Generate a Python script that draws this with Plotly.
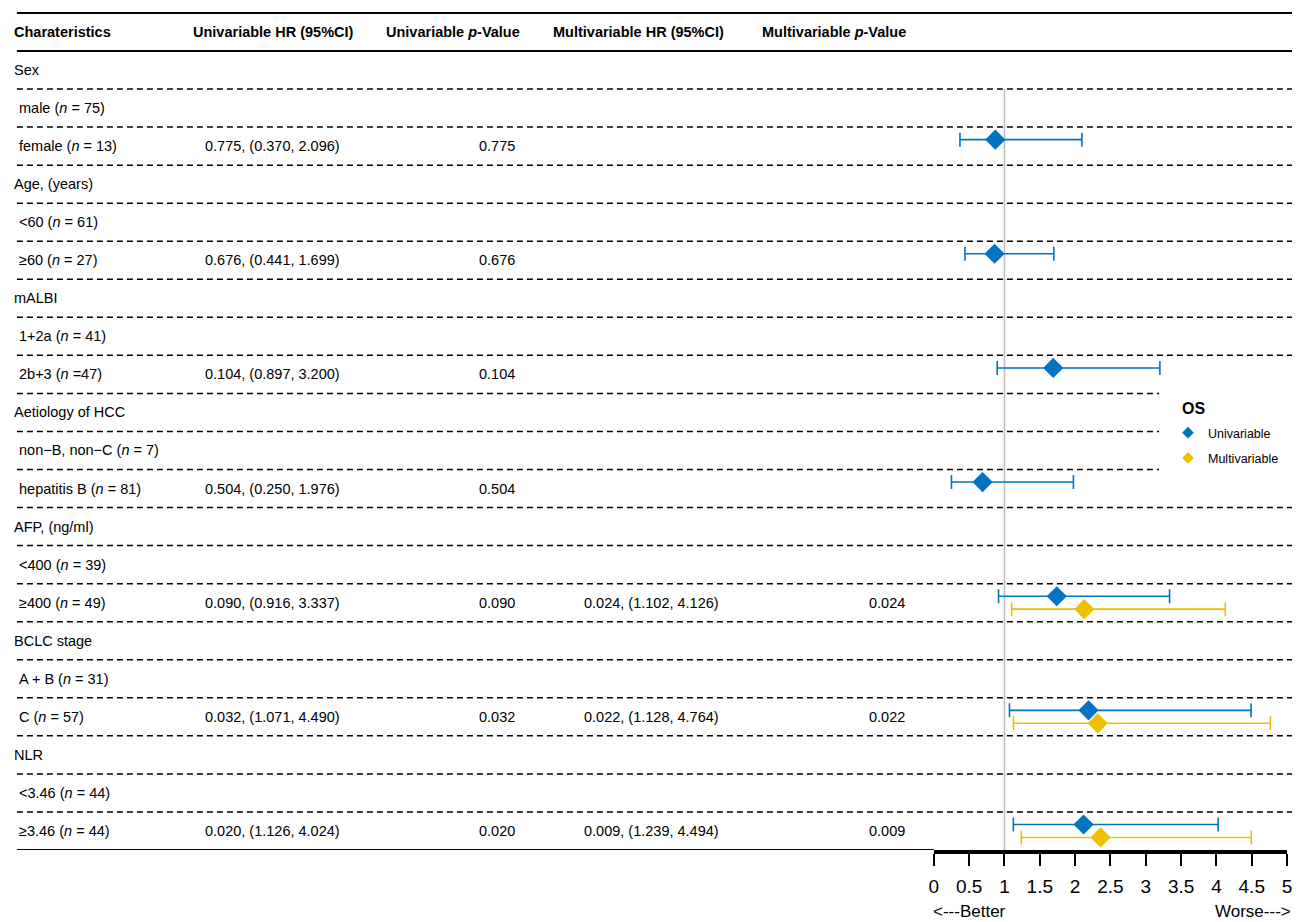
import plotly.graph_objects as go

# ---------------- data ----------------
labels = ["Sex", "male (<i>n</i> = 75)", "female (<i>n</i> = 13)",
          "Age, (years)", "&lt;60 (<i>n</i> = 61)", "≥60 (<i>n</i> = 27)",
          "mALBI", "1+2a (<i>n</i> = 41)", "2b+3 (<i>n</i> =47)",
          "Aetiology of HCC", "non−B, non−C (<i>n</i> = 7)", "hepatitis B (<i>n</i> = 81)",
          "AFP, (ng/ml)", "&lt;400 (<i>n</i> = 39)", "≥400 (<i>n</i> = 49)",
          "BCLC stage", "A + B (<i>n</i> = 31)", "C (<i>n</i> = 57)",
          "NLR", "&lt;3.46 (<i>n</i> = 44)", "≥3.46 (<i>n</i> = 44)"]
is_sub = [False, True, True] * 7

uni_hr_text = ["", "", "0.775, (0.370, 2.096)",
               "", "", "0.676, (0.441, 1.699)",
               "", "", "0.104, (0.897, 3.200)",
               "", "", "0.504, (0.250, 1.976)",
               "", "", "0.090, (0.916, 3.337)",
               "", "", "0.032, (1.071, 4.490)",
               "", "", "0.020, (1.126, 4.024)"]
uni_p_text = ["", "", "0.775", "", "", "0.676", "", "", "0.104",
              "", "", "0.504", "", "", "0.090", "", "", "0.032", "", "", "0.020"]
multi_hr_text = [""] * 14 + ["0.024, (1.102, 4.126)", "", "", "0.022, (1.128, 4.764)",
                             "", "", "0.009, (1.239, 4.494)"]
multi_p_text = [""] * 14 + ["0.024", "", "", "0.022", "", "", "0.009"]

headers = ["<b>Charateristics</b>", "<b>Univariable HR (95%CI)</b>",
           "<b>Univariable <i>p</i>-Value</b>", "<b>Multivariable HR (95%CI)</b>",
           "<b>Multivariable <i>p</i>-Value</b>"]

# forest plot values (row index into labels)
uni_rows = [2, 5, 8, 11, 14, 17, 20]
uni_est = [0.87, 0.86, 1.69, 0.69, 1.74, 2.19, 2.12]
uni_lo = [0.370, 0.441, 0.897, 0.250, 0.916, 1.071, 1.126]
uni_hi = [2.096, 1.699, 3.200, 1.976, 3.337, 4.490, 4.024]

multi_rows = [14, 17, 20]
multi_est = [2.13, 2.32, 2.36]
multi_lo = [1.102, 1.128, 1.239]
multi_hi = [4.126, 4.764, 4.494]

tick_vals = [0, 0.5, 1, 1.5, 2, 2.5, 3, 3.5, 4, 4.5, 5]
tick_text = ["0", "0.5", "1", "1.5", "2", "2.5", "3", "3.5", "4", "4.5", "5"]

# ---------------- styling ----------------
W, H = 1301, 922
BLUE = "#0073C2"
GOLD = "#EFC000"
FONT = "Liberation Sans, Arial, sans-serif"
FS = 14.5
OFF = 0.17

fig = go.Figure()

fig.add_trace(go.Scatter(
    x=uni_est, y=[r - OFF for r in uni_rows], mode="markers",
    marker=dict(symbol="diamond", size=15.5, color=BLUE, line=dict(width=0)),
    error_x=dict(type="data", symmetric=False,
                 array=[h - e for h, e in zip(uni_hi, uni_est)],
                 arrayminus=[e - l for e, l in zip(uni_est, uni_lo)],
                 color=BLUE, thickness=1.6, width=7),
    showlegend=False, hoverinfo="skip"))
fig.add_trace(go.Scatter(
    x=multi_est, y=[r + OFF for r in multi_rows], mode="markers",
    marker=dict(symbol="diamond", size=15.5, color=GOLD, line=dict(width=0)),
    error_x=dict(type="data", symmetric=False,
                 array=[h - e for h, e in zip(multi_hi, multi_est)],
                 arrayminus=[e - l for e, l in zip(multi_est, multi_lo)],
                 color=GOLD, thickness=1.6, width=7),
    showlegend=False, hoverinfo="skip"))

# legend-only traces
fig.add_trace(go.Scatter(x=[None], y=[None], mode="markers", name="Univariable",
                         legendgroup="u",
                         marker=dict(symbol="diamond", size=9, color=BLUE)))
fig.add_trace(go.Scatter(x=[None], y=[None], mode="markers", name="Multivariable",
                         legendgroup="m",
                         marker=dict(symbol="diamond", size=9, color=GOLD)))

shapes = []
X_L, X_R = 12 / W, 1297 / W
for yy in (-1.5, -0.5):
    shapes.append(dict(type="line", xref="paper", yref="y", x0=X_L, x1=X_R, y0=yy, y1=yy,
                       line=dict(color="black", width=2), layer="below"))
for i in range(len(labels) - 1):
    x1 = 1163 / W if i in (8, 9, 10) else X_R
    shapes.append(dict(type="line", xref="paper", yref="y", x0=X_L, x1=x1,
                       y0=i + 0.5, y1=i + 0.5,
                       line=dict(color="black", width=1.5, dash="6px,4px"), layer="below"))
shapes.append(dict(type="line", xref="paper", yref="y", x0=X_L, x1=936 / W,
                   y0=len(labels) - 0.5, y1=len(labels) - 0.5,
                   line=dict(color="black", width=2), layer="below"))
shapes.append(dict(type="line", xref="x", yref="y", x0=1, x1=1, y0=0.5, y1=len(labels) - 0.5,
                   line=dict(color="#BEBEBE", width=1.6), layer="below"))

annotations = []
head_x = [7, 187, 382, 550, 761]
for hx, ht in zip(head_x, headers):
    annotations.append(dict(text=ht, x=hx / W, xref="paper", y=-1, yref="y",
                            xanchor="left", yanchor="middle", showarrow=False,
                            font=dict(size=FS, color="black", family=FONT)))

for i, lab in enumerate(labels):
    lx = 12 if is_sub[i] else 7
    annotations.append(dict(text=lab, x=lx / W, xref="paper", y=i, yref="y",
                            xanchor="left", yanchor="middle", showarrow=False,
                            font=dict(size=FS, color="black", family=FONT)))
    for col_x, col in ((200, uni_hr_text), (476, uni_p_text), (581, multi_hr_text), (869, multi_p_text)):
        if col[i]:
            annotations.append(dict(text=col[i], x=col_x / W, xref="paper", y=i, yref="y",
                                    xanchor="left", yanchor="middle", showarrow=False,
                                    font=dict(size=FS, color="black", family=FONT)))

annotations.append(dict(text="<b>OS</b>", x=1184 / W, xref="paper", y=1 - 408 / H, yref="paper",
                        xanchor="left", yanchor="middle", showarrow=False,
                        font=dict(size=16, color="black", family=FONT)))
annotations.append(dict(text="&lt;---Better", x=933 / W, xref="paper", y=1 - 911 / H, yref="paper",
                        xanchor="left", yanchor="middle", showarrow=False,
                        font=dict(size=17, color="black", family=FONT)))
annotations.append(dict(text="Worse---&gt;", x=1298 / W, xref="paper", y=1 - 911 / H, yref="paper",
                        xanchor="right", yanchor="middle", showarrow=False,
                        font=dict(size=17, color="black", family=FONT)))

fig.update_layout(
    width=W, height=H,
    margin=dict(l=0, r=0, t=0, b=0),
    paper_bgcolor="white", plot_bgcolor="rgba(0,0,0,0)",
    shapes=shapes, annotations=annotations,
    font=dict(family=FONT, color="black"),
    showlegend=True,
    legend=dict(font=dict(size=12.5, family=FONT),
                x=1172 / W, y=1 - 418 / H, xanchor="left", yanchor="top",
                bgcolor="rgba(0,0,0,0)", itemwidth=30, tracegroupgap=6),
    xaxis=dict(domain=[936 / W, 1292 / W], range=[0, 5],
               tickvals=tick_vals, ticktext=tick_text,
               showline=True, linecolor="black", linewidth=4,
               ticks="outside", ticklen=12, tickwidth=1.5, tickcolor="black",
               ticklabelstandoff=4,
               tickfont=dict(size=19, family=FONT, color="black"),
               showgrid=False, zeroline=False, fixedrange=True),
    yaxis=dict(domain=[1 - 850 / H, 1], range=[len(labels) - 0.5, -1.84],
               visible=False, showgrid=False, zeroline=False, fixedrange=True),
)

fig.write_html("out.html", config={"displayModeBar": False},
               post_script="document.body.style.margin='0';document.body.style.overflow='hidden';")
